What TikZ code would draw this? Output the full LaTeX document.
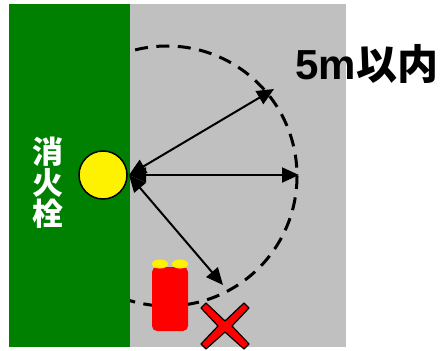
\documentclass[tikz,border=0pt]{standalone}
\usepackage{fontspec}
\setmainfont{Liberation Sans}
\newfontfamily\cjkf[BoldFont={Noto Sans CJK JP Black}]{Noto Sans CJK JP}
\usetikzlibrary{arrows.meta}
\definecolor{wallgreen}{RGB}{0,128,0}
\definecolor{areagray}{RGB}{192,192,192}
\tikzset{
  x=1pt,y=-1pt,
  reach/.style={line width=2pt,{Triangle[length=17pt,width=15pt]}-{Triangle[length=17pt,width=15pt]}},
  zone/.style={line width=3pt,dash pattern=on 13pt off 8.5pt},
  pipe/.style={inner sep=0pt,draw=black,line width=1.5pt,fill=yellow,circle,minimum size=48pt},
  capst/.style={fill=yellow,draw=none},
}
\begin{document}
\begin{tikzpicture}
\useasboundingbox (0,0) rectangle (443,350);
\fill[areagray] (130,4) rectangle (346,347);
\fill[wallgreen] (9,4) rectangle (130,347);
\begin{scope}
\clip (130,4) rectangle (346,347);
\draw[zone] (167,176) circle[radius=130];
\end{scope}
\node[pipe] (hydrant) at (103,175) {};
\coordinate (hub) at (129,175);
\coordinate (endA) at (274,89);
\coordinate (endB) at (299,175);
\coordinate (endC) at (223,285);
\draw[reach] (hub) -- (endA);
\draw[reach] (hub) -- (endB);
\draw[reach] (hub) -- (endC);
\fill[red,rounded corners=5pt] (152,267) rectangle (188,331);
\fill[capst] (160,264) ellipse[x radius=8,y radius=4.5];
\fill[capst] (180,264) ellipse[x radius=8,y radius=4.5];
\draw[fill=red,line width=1.2pt,line join=round] (201,308)--(206,303)--(225,321)--(244,303)--(249,308)--(232,326)--(249,344)--(244,349)--(225,332)--(206,349)--(201,344)--(218,326)--cycle;
\node[inner sep=0pt,text=white,font=\cjkf\bfseries\fontsize{31pt}{31pt}\selectfont,align=center] (name) at (48,183) {消\\火\\栓};
\node[inner sep=0pt,anchor=base west,font=\bfseries\fontsize{42pt}{42pt}\selectfont] (label) at (295,80) {5m{\cjkf\fontsize{41pt}{41pt}\selectfont\kern1pt 以内}};
\end{tikzpicture}
\end{document}
